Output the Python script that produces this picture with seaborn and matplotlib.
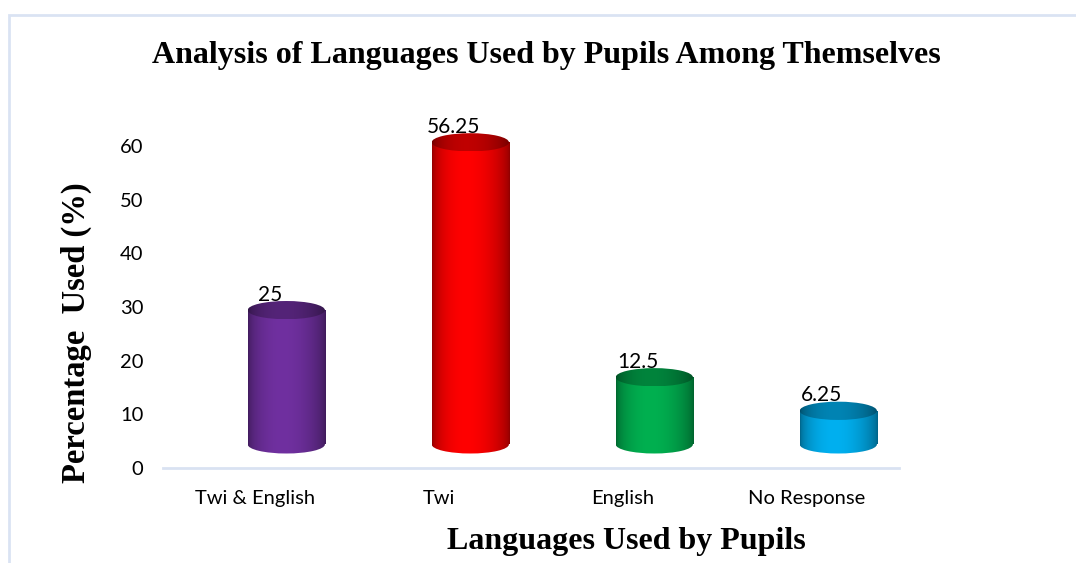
import numpy as np
import pandas as pd
import matplotlib
matplotlib.use("Agg")
import matplotlib.pyplot as plt
import seaborn as sns
from matplotlib.patches import Ellipse, Rectangle
from matplotlib.colors import to_rgb

# ---- data ----
categories = ["Twi & English", "Twi", "English", "No Response"]
percentages = [25, 56.25, 12.5, 6.25]
value_labels = ["25", "56.25", "12.5", "6.25"]
bar_colors = ["#7030A0", "#FF0000", "#00B050", "#00B0F0"]
y_ticks = [0, 10, 20, 30, 40, 50, 60]

title = "Analysis of Languages Used by Pupils Among Themselves"
x_title = "Languages Used by Pupils"
y_title = "Percentage  Used (%)"

df = pd.DataFrame({"Language": categories, "Percent": percentages})

sns.set_theme(style="white")
plt.rcParams["font.family"] = ["Lato", "DejaVu Sans"]

W, H = 1076, 563
fig = plt.figure(figsize=(W / 100, H / 100), dpi=100)
# axes placement (pixel-derived)
x0_px, x1_px = 163, 899
y0_px, ytop_px = 468, 113.6
ax = fig.add_axes([x0_px / W, (H - y0_px) / H, (x1_px - x0_px) / W, (y0_px - ytop_px) / H])

bar_w = 0.42
sns.barplot(data=df, x="Language", y="Percent", hue="Language", palette=bar_colors,
            width=bar_w, legend=False, ax=ax, saturation=1)

# 3D cylinder look
depth_dx = 0.17      # oblique shift in category units
lift = 4.4           # oblique lift in data units
ell_h = 3.4          # ellipse height in data units
N = 200
t = np.linspace(0, 1, N)
prof = 0.55 + 0.45 * np.clip(np.sin(np.pi * (t ** 0.85)), 0, 1) ** 0.6


def grad(color, scale=1.0):
    c = np.array(to_rgb(color))
    img = np.zeros((2, N, 3))
    for i in range(N):
        img[:, i, :] = np.clip(c * prof[i] * scale, 0, 1)
    return img


patches = list(ax.patches)
for p in patches:
    cx = p.get_x() + p.get_width() / 2
    idx = int(round(cx))
    col = bar_colors[idx]
    val = percentages[idx]
    left = p.get_x() + depth_dx
    p.set_x(left)
    p.set_y(lift)
    p.set_height(val)
    p.set_facecolor("none")
    p.set_edgecolor("none")
    # bottom ellipse
    e_bot = Ellipse((left + bar_w / 2, lift), bar_w, ell_h, facecolor="none", edgecolor="none")
    ax.add_patch(e_bot)
    im = ax.imshow(grad(col), extent=[left, left + bar_w, lift - ell_h / 2, lift + ell_h / 2],
                   aspect="auto", zorder=2, interpolation="bilinear")
    im.set_clip_path(e_bot)
    im2 = ax.imshow(grad(col), extent=[left, left + bar_w, lift, lift + val],
                    aspect="auto", zorder=2.1, interpolation="bilinear")
    im2.set_clip_path(p)
    # top ellipse
    e_top = Ellipse((left + bar_w / 2, lift + val), bar_w, ell_h, facecolor="none", edgecolor="none")
    ax.add_patch(e_top)
    im3 = ax.imshow(grad(col, 0.75), extent=[left, left + bar_w, lift + val - ell_h / 2, lift + val + ell_h / 2],
                    aspect="auto", zorder=2.2, interpolation="bilinear")
    im3.set_clip_path(e_top)
    ax.text(idx + 0.08, lift + val + ell_h / 2 - 0.7, value_labels[idx], ha="center", va="bottom",
            fontsize=15, color="#000000", zorder=5)

ax.set_xlim(-0.5, len(categories) - 0.5)
ax.set_ylim(0, 66)
ax.set_yticks(y_ticks)
ax.set_yticklabels([str(v) for v in y_ticks])
ax.tick_params(axis="y", length=0, pad=14, labelsize=14.5, colors="#000000")
ax.tick_params(axis="x", length=0, pad=16, labelsize=14.5, colors="#000000")
ax.set_xlabel("")
ax.set_ylabel("")
for s in ["top", "right", "left"]:
    ax.spines[s].set_visible(False)
ax.spines["bottom"].set_color("#D9E2F2")
ax.spines["bottom"].set_linewidth(2)
ax.grid(False)

serif = ["Liberation Serif", "DejaVu Serif"]
fig.text(546 / W, 1 - 56 / H, title, ha="center", va="center", fontsize=23,
         fontweight="bold", family=serif, color="#000000")
fig.text(626 / W, 1 - 541 / H, x_title, ha="center", va="center", fontsize=23,
         fontweight="bold", family=serif, color="#000000")
fig.text(76 / W, 1 - 333 / H, y_title, ha="center", va="center", fontsize=23.5,
         fontweight="bold", family=serif, color="#000000", rotation=90)

# outer light-blue chart border (extends off right and bottom)
fig.patches.append(Rectangle((8.5 / W, -0.1), 1.2, 1.1 - 15 / H, transform=fig.transFigure,
                             facecolor="none", edgecolor="#DAE3F3", linewidth=2, zorder=0))

fig.savefig("out.png", dpi=100)
